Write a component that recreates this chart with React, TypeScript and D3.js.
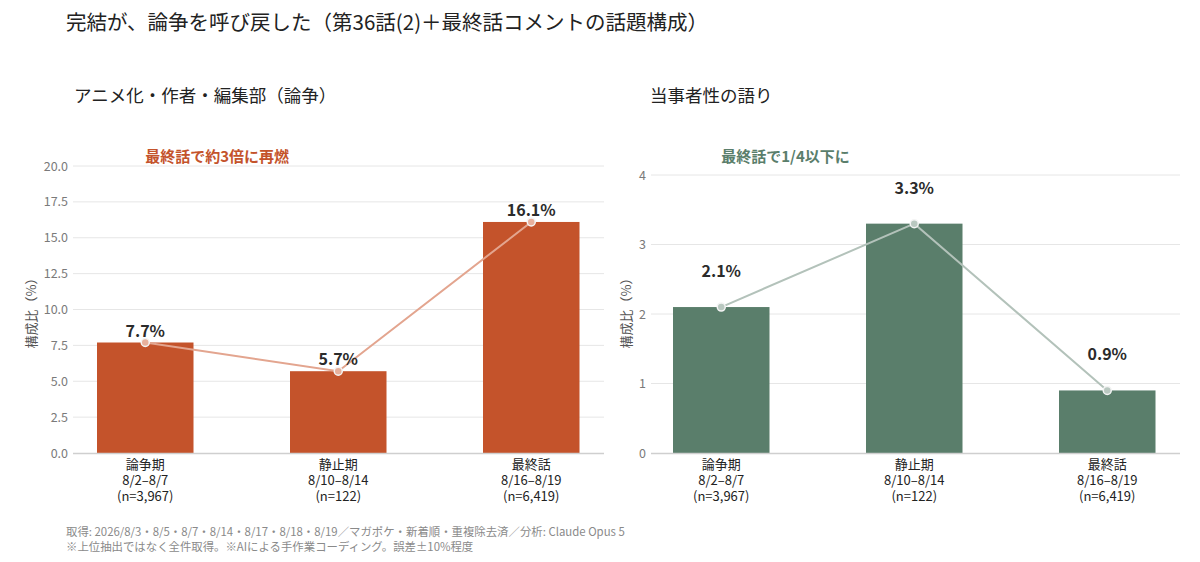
import { useEffect, useRef } from 'react';
import * as d3 from 'd3';

const categories = ['論争期', '静止期', '最終話'];
const dateRanges = ['8/2–8/7', '8/10–8/14', '8/16–8/19'];
const sampleSizes = ['(n=3,967)', '(n=122)', '(n=6,419)'];

const debateValues = [7.7, 5.7, 16.1];
const personalValues = [2.1, 3.3, 0.9];

const leftTicks = [0, 2.5, 5, 7.5, 10, 12.5, 15, 17.5, 20];
const rightTicks = [0, 1, 2, 3, 4];

const FONT = '"Noto Sans CJK JP", "Noto Sans", sans-serif';

interface PanelOpts {
  x0: number;
  gridStart: number;
  gridEnd: number;
  yTop: number;
  values: number[];
  ticks: number[];
  tickFmt: (d: number) => string;
  max: number;
  barColor: string;
  lineColor: string;
  dotColor: string;
  subtitle: string;
  subtitleX: number;
  note: string;
  labelOffset: number;
  yLabelX: number;
}

export default function App() {
  const svgRef = useRef<SVGSVGElement>(null);

  useEffect(() => {
    if (!svgRef.current) return;
    const width = 1200;
    const height = 562;
    const svg = d3.select(svgRef.current).attr('width', width).attr('height', height);
    svg.selectAll('*').remove();

    svg.append('rect').attr('width', width).attr('height', height).attr('fill', '#fff');

    // Title
    svg
      .append('text')
      .attr('x', 66)
      .attr('y', 30)
      .style('font-size', '20.5px')
      .style('fill', '#222')
      .text('完結が、論争を呼び戻した（第36話(2)＋最終話コメントの話題構成）');

    const bottom = 453;

    const drawPanel = (o: PanelOpts) => {
      const g = svg.append('g');

      g.append('text')
        .attr('x', o.subtitleX)
        .attr('y', 102)
        .style('font-size', '17.5px')
        .style('fill', '#222')
        .text(o.subtitle);

      const x = d3
        .scaleBand<string>()
        .domain(categories)
        .range([o.x0, o.x0 + 579])
        .paddingInner(0.5)
        .paddingOuter(0.25);

      const y = d3.scaleLinear().domain([0, o.max]).range([bottom, o.yTop]);

      // grid
      g.selectAll('line.grid')
        .data(o.ticks.filter((t) => t > 0))
        .enter()
        .append('line')
        .attr('x1', o.gridStart)
        .attr('x2', o.gridEnd)
        .attr('y1', (d) => y(d))
        .attr('y2', (d) => y(d))
        .attr('stroke', '#e6e6e6')
        .attr('stroke-width', 1);

      g.selectAll('text.tick')
        .data(o.ticks)
        .enter()
        .append('text')
        .attr('x', o.gridStart - 5)
        .attr('y', (d) => y(d) + 4.5)
        .attr('text-anchor', 'end')
        .style('font-size', '12.5px')
        .style('fill', '#7a7a7a')
        .text((d) => o.tickFmt(d));

      // y-axis label
      g.append('text')
        .attr('transform', `translate(${o.yLabelX},310) rotate(-90)`)
        .attr('text-anchor', 'middle')
        .style('font-size', '13px')
        .style('fill', '#555')
        .text('構成比（%）');

      // bars
      g.selectAll('rect.bar')
        .data(o.values)
        .enter()
        .append('rect')
        .attr('x', (_, i) => x(categories[i]) ?? 0)
        .attr('y', (d) => y(d))
        .attr('width', x.bandwidth())
        .attr('height', (d) => bottom - y(d))
        .attr('fill', o.barColor);

      // baseline
      g.append('line')
        .attr('x1', o.gridStart)
        .attr('x2', o.gridEnd)
        .attr('y1', bottom + 0.5)
        .attr('y2', bottom + 0.5)
        .attr('stroke', '#cfcfcf')
        .attr('stroke-width', 1.5);

      const cx = (i: number) => (x(categories[i]) ?? 0) + x.bandwidth() / 2;

      // trend line
      const line = d3
        .line<number>()
        .x((_, i) => cx(i))
        .y((d) => y(d));
      g.append('path')
        .datum(o.values)
        .attr('d', line)
        .attr('fill', 'none')
        .attr('stroke', o.lineColor)
        .attr('stroke-width', 2);

      g.selectAll('circle.dot')
        .data(o.values)
        .enter()
        .append('circle')
        .attr('cx', (_, i) => cx(i))
        .attr('cy', (d) => y(d))
        .attr('r', 4)
        .attr('fill', o.dotColor)
        .attr('stroke', '#f4f4f4')
        .attr('stroke-width', 1.5);

      // value labels
      g.selectAll('text.val')
        .data(o.values)
        .enter()
        .append('text')
        .attr('x', (_, i) => cx(i))
        .attr('y', (d) => y(d) - o.labelOffset)
        .attr('text-anchor', 'middle')
        .style('font-size', '16px')
        .style('font-weight', '700')
        .style('fill', '#2b2b2b')
        .text((d) => `${d.toFixed(1)}%`);

      // category labels, three lines each
      categories.forEach((c, i) => {
        [c, dateRanges[i], sampleSizes[i]].forEach((s, k) => {
          g.append('text')
            .attr('x', cx(i))
            .attr('y', 469 + k * 16)
            .attr('text-anchor', 'middle')
            .style('font-size', '13px')
            .style('fill', '#222')
            .text(s);
        });
      });

      // annotation
      g.append('text')
        .attr('x', cx(0))
        .attr('y', 162)
        .style('font-size', '15px')
        .style('font-weight', '700')
        .style('fill', o.barColor)
        .text(o.note);
    };

    drawPanel({
      x0: 48.75,
      gridStart: 73,
      gridEnd: 604,
      yTop: 166,
      values: debateValues,
      ticks: leftTicks,
      tickFmt: (d) => d.toFixed(1),
      max: 20,
      barColor: '#c4532b',
      lineColor: '#e3a58f',
      dotColor: '#e8b09c',
      subtitle: 'アニメ化・作者・編集部（論争）',
      subtitleX: 74,
      note: '最終話で約3倍に再燃',
      labelOffset: 6,
      yLabelX: 36,
    });

    drawPanel({
      x0: 624.75,
      gridStart: 651,
      gridEnd: 1180,
      yTop: 175,
      values: personalValues,
      ticks: rightTicks,
      tickFmt: (d) => d3.format('d')(d),
      max: 4,
      barColor: '#5a7e6b',
      lineColor: '#b3c2ba',
      dotColor: '#b9c8c0',
      subtitle: '当事者性の語り',
      subtitleX: 650,
      note: '最終話で1/4以下に',
      labelOffset: 30,
      yLabelX: 631,
    });

    // footnotes
    svg
      .append('text')
      .attr('x', 66)
      .attr('y', 536)
      .style('font-size', '11.4px')
      .style('fill', '#8a8a8a')
      .text('取得: 2026/8/3・8/5・8/7・8/14・8/17・8/18・8/19／マガポケ・新着順・重複除去済／分析: Claude Opus 5');
    svg
      .append('text')
      .attr('x', 66)
      .attr('y', 551)
      .style('font-size', '11.4px')
      .style('fill', '#8a8a8a')
      .text('※上位抽出ではなく全件取得。※AIによる手作業コーディング。誤差±10%程度');
  }, []);

  return (
    <svg
      ref={svgRef}
      style={{ position: 'absolute', left: 0, top: 0, fontFamily: FONT }}
    ></svg>
  );
}
